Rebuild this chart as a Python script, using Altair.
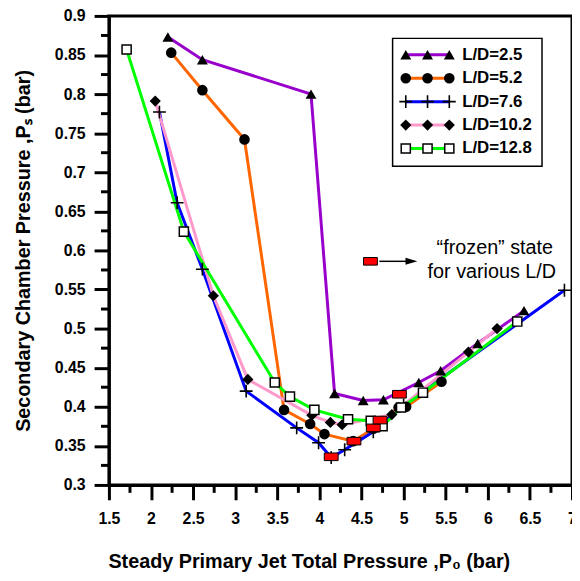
import altair as alt
import pandas as pd

FONT = "Liberation Sans"

labels = ["L/D=2.5", "L/D=5.2", "L/D=7.6", "L/D=10.2", "L/D=12.8"]
colors = ["#9900CC", "#FF6600", "#0000FF", "#FF99CC", "#00FF00"]

ld25_x = [2.2, 2.61, 3.9, 4.18, 4.52, 4.76, 5.18, 5.44, 5.88, 6.43]
ld25_y = [0.873, 0.844, 0.80, 0.417, 0.408, 0.409, 0.431, 0.446, 0.481, 0.523]

ld52_x = [2.24, 2.61, 3.11, 3.58, 3.89, 4.06, 4.40, 4.64, 4.94, 5.03, 5.45]
ld52_y = [0.853, 0.805, 0.742, 0.396, 0.378, 0.365, 0.356, 0.372, 0.399, 0.400, 0.432]

ld76_x = [2.10, 2.31, 2.61, 3.13, 3.73, 3.99, 4.14, 4.30, 4.64, 5.00, 6.91]
ld76_y = [0.777, 0.661, 0.576, 0.420, 0.373, 0.354, 0.335, 0.345, 0.368, 0.402, 0.549]

ld102_x = [2.05, 2.74, 3.15, 3.91, 4.13, 4.27, 4.86, 5.77, 6.11]
ld102_y = [0.791, 0.542, 0.435, 0.389, 0.380, 0.377, 0.390, 0.470, 0.500]

ld128_x = [1.71, 2.39, 3.47, 3.65, 3.94, 4.34, 4.61, 4.75, 4.97, 5.23, 6.35]
ld128_y = [0.857, 0.624, 0.431, 0.413, 0.396, 0.384, 0.382, 0.375, 0.399, 0.418, 0.509]

frozen_x = [4.14, 4.41, 4.64, 4.72, 4.95]
frozen_y = [0.336, 0.356, 0.373, 0.383, 0.416]

x_ticks = [1.5, 2, 2.5, 3, 3.5, 4, 4.5, 5, 5.5, 6, 6.5, 7]
x_minor = [1.75, 2.25, 2.75, 3.25, 3.75, 4.25, 4.75, 5.25, 5.75, 6.25, 6.75]
y_ticks = [0.3, 0.35, 0.4, 0.45, 0.5, 0.55, 0.6, 0.65, 0.7, 0.75, 0.8, 0.85, 0.9]
y_minor = [0.325, 0.375, 0.425, 0.475, 0.525, 0.575, 0.625, 0.675, 0.725, 0.775, 0.825, 0.875]

xs_all = [ld25_x, ld52_x, ld76_x, ld102_x, ld128_x]
ys_all = [ld25_y, ld52_y, ld76_y, ld102_y, ld128_y]

PLUS = "M-1,0L1,0M0,-1L0,1"
RECT = "M-1,-0.55L1,-0.55L1,0.55L-1,0.55Z"
ARROW = "M-1,-0.6L1,0L-1,0.6Z"

W, H = 468, 474

xscale = alt.Scale(domain=[1.5, 7], nice=False, zero=False)
yscale = alt.Scale(domain=[0.3, 0.9], nice=False, zero=False)

xaxis = alt.Axis(
    values=x_ticks, labelExpr="'' + datum.value", tickSize=15, tickWidth=3,
    tickColor="black", domainColor="black", domainWidth=3, grid=False,
    labelFont=FONT, labelFontSize=16, labelFontWeight="bold", labelColor="black",
    labelPadding=11, labelFlush=False, labelOverlap=False,
    title="Steady Primary Jet Total Pressure ,P\u2080 (bar)", titleFont=FONT,
    titleFontSize=20, titleFontWeight="bold", titleColor="black",
    titleX=202, titleY=77, titleBaseline="middle", titleAlign="center",
)
yaxis = alt.Axis(
    values=y_ticks, labelExpr="'' + datum.value", tickSize=15, tickWidth=3,
    tickColor="black", domainColor="black", domainWidth=3, grid=False,
    labelFont=FONT, labelFontSize=16, labelFontWeight="bold", labelColor="black",
    labelPadding=9, labelFlush=False, labelOverlap=False,
    title="Secondary Chamber Pressure ,P\u209b (bar)", titleFont=FONT,
    titleFontSize=20, titleFontWeight="bold", titleColor="black",
    titleX=-86, titleY=237, titleAngle=-90, titleBaseline="middle", titleAlign="center",
)

X = alt.X("x:Q", scale=xscale, axis=xaxis)
Y = alt.Y("y:Q", scale=yscale, axis=yaxis)

layers = []

# minor ticks
layers.append(
    alt.Chart(pd.DataFrame({"x": x_minor})).mark_rule(color="black", strokeWidth=3)
    .encode(x=X, y=alt.value(H), y2=alt.value(H + 8))
)
layers.append(
    alt.Chart(pd.DataFrame({"y": y_minor})).mark_rule(color="black", strokeWidth=3)
    .encode(y=Y, x=alt.value(-8), x2=alt.value(0))
)

dfs = [pd.DataFrame({"x": xs, "y": ys, "o": list(range(len(xs)))}) for xs, ys in zip(xs_all, ys_all)]

# lines
for df, col in zip(dfs, colors):
    layers.append(
        alt.Chart(df).mark_line(color=col, strokeWidth=3).encode(x=X, y=Y, order="o:Q")
    )

marker_props = [
    dict(shape="triangle-up", filled=True, color="black", size=121, opacity=1),
    dict(shape="circle", filled=True, color="black", size=115, opacity=1),
    dict(shape=PLUS, filled=False, stroke="black", strokeWidth=1.6, size=169, opacity=1),
    dict(shape="diamond", filled=True, color="black", size=128, opacity=1),
    dict(shape="square", filled=True, fill="white", stroke="black", strokeWidth=1.5, size=85, opacity=1),
]

for df, mp in zip(dfs, marker_props):
    layers.append(alt.Chart(df).mark_point(**mp).encode(x=X, y=Y))

# frozen state markers
layers.append(
    alt.Chart(pd.DataFrame({"x": frozen_x, "y": frozen_y}))
    .mark_point(shape=RECT, filled=True, fill="#FF0000", stroke="black", strokeWidth=1, size=196, opacity=1)
    .encode(x=X, y=Y)
)

one = pd.DataFrame({"a": [0]})

# legend box
layers.append(
    alt.Chart(one).mark_rect(fill="white", stroke="black", strokeWidth=1.5)
    .encode(x=alt.value(286.7), x2=alt.value(437.7), y=alt.value(22.7), y2=alt.value(152))
)
row0, step = 39.3, 23.67
for i, (lab, col, mp) in enumerate(zip(labels, colors, marker_props)):
    yy = row0 + step * i
    layers.append(
        alt.Chart(one).mark_rule(color=col, strokeWidth=3)
        .encode(x=alt.value(300), x2=alt.value(344), y=alt.value(yy))
    )
    for xx in (300, 322, 344):
        layers.append(
            alt.Chart(one).mark_point(**mp).encode(x=alt.value(xx), y=alt.value(yy))
        )
    layers.append(
        alt.Chart(one).mark_text(text=lab, font=FONT, fontSize=17, fontWeight="bold",
                                 color="black", align="left", baseline="middle")
        .encode(x=alt.value(357), y=alt.value(yy))
    )

# annotation
layers.append(
    alt.Chart(one).mark_point(shape=RECT, filled=True, fill="#FF0000", stroke="black",
                              strokeWidth=1, size=196, opacity=1)
    .encode(x=alt.value(264.3), y=alt.value(248))
)
layers.append(
    alt.Chart(one).mark_rule(color="black", strokeWidth=1.5)
    .encode(x=alt.value(273.3), x2=alt.value(301), y=alt.value(248))
)
layers.append(
    alt.Chart(one).mark_point(shape=ARROW, filled=True, color="black", size=144, opacity=1)
    .encode(x=alt.value(305.7), y=alt.value(248))
)
layers.append(
    alt.Chart(one).mark_text(text="\u201cfrozen\u201d state", font=FONT, fontSize=20,
                             color="black", align="center", baseline="middle")
    .encode(x=alt.value(390), y=alt.value(235))
)
layers.append(
    alt.Chart(one).mark_text(text="for various L/D", font=FONT, fontSize=20,
                             color="black", align="center", baseline="middle")
    .encode(x=alt.value(387), y=alt.value(258.5))
)

chart = (
    alt.layer(*layers)
    .properties(
        width=W, height=H,
        autosize=alt.AutoSizeParams(type="none"),
        padding={"left": 102, "top": 5, "right": 0, "bottom": 86},
    )
    .configure_view(stroke="black", strokeWidth=3)
)

chart.save("out.html", embed_options={"renderer": "svg", "actions": False})
